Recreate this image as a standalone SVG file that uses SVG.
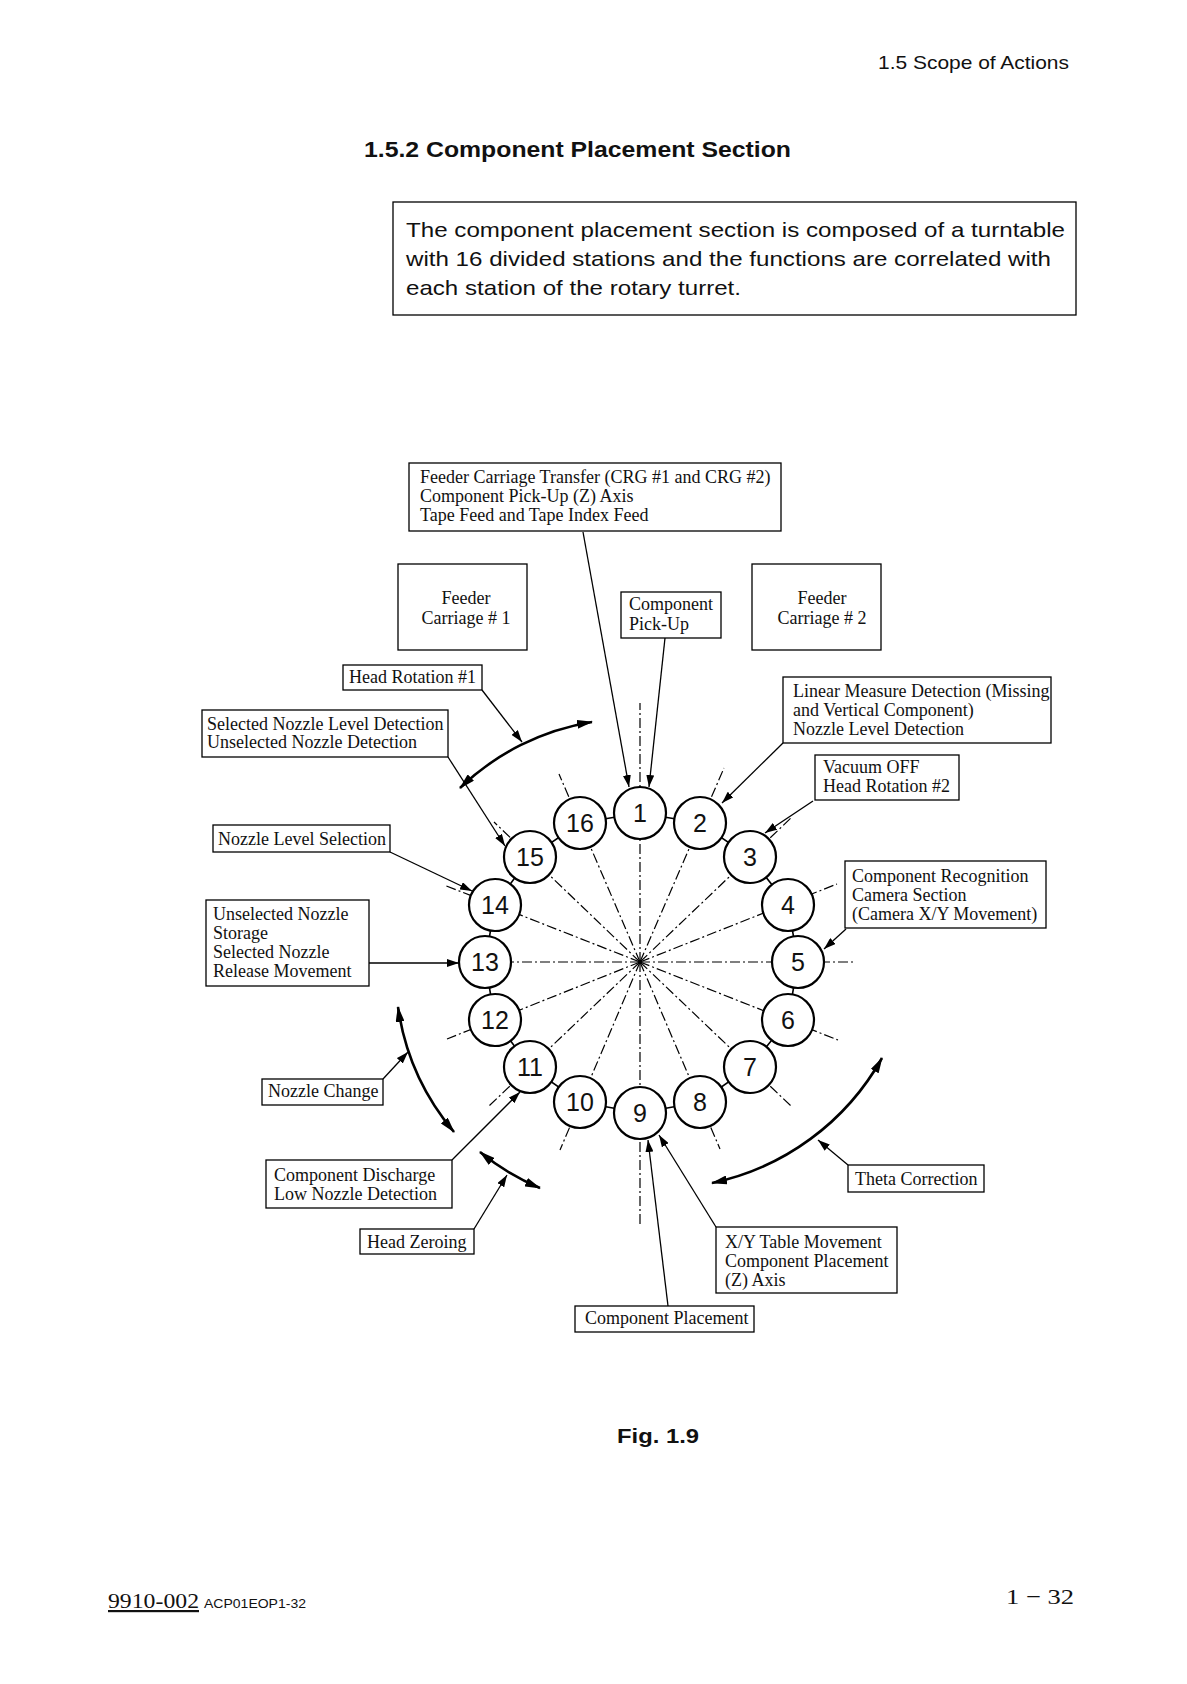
<svg xmlns="http://www.w3.org/2000/svg" width="1187" height="1684" viewBox="0 0 1187 1684">
<style>
.bg{fill:#fff}
.box{fill:#fff;stroke:#000;stroke-width:1.3}
.lbl{font-family:"Liberation Serif","Times New Roman",serif;font-size:18px;fill:#111}
.sans{font-family:"Liberation Sans",Arial,sans-serif;fill:#111}
.conn{fill:none;stroke:#000;stroke-width:1.3}
.arc{fill:none;stroke:#000;stroke-width:2.6}
.dd{fill:none;stroke:#000;stroke-width:1.2;stroke-dasharray:10 3 2 3}
.ring{fill:none;stroke:#000;stroke-width:1.6}
.st{fill:#fff;stroke:#000;stroke-width:2.2}
.num{font-family:"Liberation Sans",Arial,sans-serif;font-size:25px;fill:#111;text-anchor:middle}
</style>
<defs>
<marker id="ah" viewBox="0 0 12 8" refX="12" refY="4" markerWidth="12" markerHeight="8" markerUnits="userSpaceOnUse" orient="auto"><path d="M0,0 L12,4 L0,8 z" fill="#000"/></marker>
<marker id="ahb" viewBox="0 0 16 9" refX="15" refY="4.5" markerWidth="16" markerHeight="9" markerUnits="userSpaceOnUse" orient="auto-start-reverse"><path d="M0,0 L16,4.5 L0,9 z" fill="#000"/></marker>
</defs>
<rect class="bg" x="0" y="0" width="1187" height="1684"/>

<g id="page-text">
<text class="sans" x="878" y="69" font-size="19" textLength="191" lengthAdjust="spacingAndGlyphs">1.5 Scope of Actions</text>
<text class="sans" x="364" y="157" font-size="22" font-weight="bold" textLength="427" lengthAdjust="spacingAndGlyphs">1.5.2 Component Placement Section</text>
<rect class="box" x="393" y="202" width="683" height="113"/>
<text class="sans" font-size="21"><tspan x="406" y="237" textLength="659" lengthAdjust="spacingAndGlyphs">The component placement section is composed of a turntable</tspan><tspan x="406" y="266" textLength="645" lengthAdjust="spacingAndGlyphs">with 16 divided stations and the functions are correlated with</tspan><tspan x="406" y="295" textLength="335" lengthAdjust="spacingAndGlyphs">each station of the rotary turret.</tspan></text>
<text class="sans" x="617" y="1443" font-size="21" font-weight="bold" textLength="82" lengthAdjust="spacingAndGlyphs">Fig. 1.9</text>
<text x="108" y="1608" font-family="Liberation Serif,serif" font-size="22" fill="#111" text-decoration="underline" textLength="91" lengthAdjust="spacingAndGlyphs">9910-002</text>
<text class="sans" x="204" y="1608" font-size="13" textLength="102" lengthAdjust="spacingAndGlyphs">ACP01EOP1-32</text>
<text x="1006" y="1604" font-family="Liberation Serif,serif" font-size="22" fill="#111" textLength="68" lengthAdjust="spacingAndGlyphs">1 − 32</text>
</g>

<g id="turret-lines">
<path class="dd" d="M640 962 L640 703"/>
<path class="dd" d="M640 962 L724 768"/>
<path class="dd" d="M640 962 L792 817"/>
<path class="dd" d="M640 962 L837 884"/>
<path class="dd" d="M640 962 L854 962"/>
<path class="dd" d="M640 962 L838 1040"/>
<path class="dd" d="M640 962 L791 1106"/>
<path class="dd" d="M640 962 L720 1149"/>
<path class="dd" d="M640 962 L640 1227"/>
<path class="dd" d="M640 962 L560 1150"/>
<path class="dd" d="M640 962 L489 1106"/>
<path class="dd" d="M640 962 L447 1039"/>
<path class="dd" d="M640 962 L470 962"/>
<path class="dd" d="M640 962 L444 885"/>
<path class="dd" d="M640 962 L494 822"/>
<path class="dd" d="M640 962 L559 774"/>
<polygon class="ring" points="640,813 700,823 750,857 788,905 798,962 788,1020 750,1067 700,1102 640,1113 580,1102 530,1067 495,1020 485,962 495,905 530,857 580,823"/>
</g>

<g id="connectors">
<path class="conn" d="M583 532 L629 787" marker-end="url(#ah)"/>
<path class="conn" d="M665 638 L649 787" marker-end="url(#ah)"/>
<path class="conn" d="M482 690 L522 742" marker-end="url(#ah)"/>
<path class="conn" d="M448 757 L505 846" marker-end="url(#ah)"/>
<path class="conn" d="M390 852 L472 891" marker-end="url(#ah)"/>
<path class="conn" d="M369 963 L459 963" marker-end="url(#ah)"/>
<path class="conn" d="M383 1079 L408 1052" marker-end="url(#ah)"/>
<path class="conn" d="M452 1160 L520 1092" marker-end="url(#ah)"/>
<path class="conn" d="M474 1229 L507 1175" marker-end="url(#ah)"/>
<path class="conn" d="M668 1306 L648 1140" marker-end="url(#ah)"/>
<path class="conn" d="M716 1227 L659 1135" marker-end="url(#ah)"/>
<path class="conn" d="M848 1165 L818 1140" marker-end="url(#ah)"/>
<path class="conn" d="M846 929 L824 949" marker-end="url(#ah)"/>
<path class="conn" d="M813 801 L765 833" marker-end="url(#ah)"/>
<path class="conn" d="M783 743 L722 803" marker-end="url(#ah)"/>
<path class="arc" d="M460 788 A248 248 0 0 1 592 722" marker-start="url(#ahb)" marker-end="url(#ahb)"/>
<path class="arc" d="M398 1007 A248 248 0 0 0 454 1132" marker-start="url(#ahb)" marker-end="url(#ahb)"/>
<path class="arc" d="M480 1152 A248 248 0 0 0 540 1188" marker-start="url(#ahb)" marker-end="url(#ahb)"/>
<path class="arc" d="M882 1058 A255 255 0 0 1 712 1183" marker-start="url(#ahb)" marker-end="url(#ahb)"/>
</g>

<g id="st1"><circle class="st" cx="640" cy="813" r="26"/><text class="num" x="640" y="822">1</text></g>
<g id="st2"><circle class="st" cx="700" cy="823" r="26"/><text class="num" x="700" y="832">2</text></g>
<g id="st3"><circle class="st" cx="750" cy="857" r="26"/><text class="num" x="750" y="866">3</text></g>
<g id="st4"><circle class="st" cx="788" cy="905" r="26"/><text class="num" x="788" y="914">4</text></g>
<g id="st5"><circle class="st" cx="798" cy="962" r="26"/><text class="num" x="798" y="971">5</text></g>
<g id="st6"><circle class="st" cx="788" cy="1020" r="26"/><text class="num" x="788" y="1029">6</text></g>
<g id="st7"><circle class="st" cx="750" cy="1067" r="26"/><text class="num" x="750" y="1076">7</text></g>
<g id="st8"><circle class="st" cx="700" cy="1102" r="26"/><text class="num" x="700" y="1111">8</text></g>
<g id="st9"><circle class="st" cx="640" cy="1113" r="26"/><text class="num" x="640" y="1122">9</text></g>
<g id="st10"><circle class="st" cx="580" cy="1102" r="26"/><text class="num" x="580" y="1111">10</text></g>
<g id="st11"><circle class="st" cx="530" cy="1067" r="26"/><text class="num" x="530" y="1076">11</text></g>
<g id="st12"><circle class="st" cx="495" cy="1020" r="26"/><text class="num" x="495" y="1029">12</text></g>
<g id="st13"><circle class="st" cx="485" cy="962" r="26"/><text class="num" x="485" y="971">13</text></g>
<g id="st14"><circle class="st" cx="495" cy="905" r="26"/><text class="num" x="495" y="914">14</text></g>
<g id="st15"><circle class="st" cx="530" cy="857" r="26"/><text class="num" x="530" y="866">15</text></g>
<g id="st16"><circle class="st" cx="580" cy="823" r="26"/><text class="num" x="580" y="832">16</text></g>

<g id="n-feeder-transfer"><rect class="box" x="409" y="463" width="372" height="68"/><text class="lbl"><tspan x="420" y="483">Feeder Carriage Transfer (CRG #1 and CRG #2)</tspan><tspan x="420" y="502">Component Pick-Up (Z) Axis</tspan><tspan x="420" y="521">Tape Feed and Tape Index Feed</tspan></text></g>
<g id="n-feeder1"><rect class="box" x="398" y="564" width="129" height="86"/><text class="lbl" text-anchor="middle"><tspan x="466" y="604">Feeder</tspan><tspan x="466" y="624">Carriage # 1</tspan></text></g>
<g id="n-feeder2"><rect class="box" x="752" y="564" width="129" height="86"/><text class="lbl" text-anchor="middle"><tspan x="822" y="604">Feeder</tspan><tspan x="822" y="624">Carriage # 2</tspan></text></g>
<g id="n-pickup"><rect class="box" x="621" y="592" width="100" height="46"/><text class="lbl"><tspan x="629" y="610">Component</tspan><tspan x="629" y="630">Pick-Up</tspan></text></g>
<g id="n-headrot1"><rect class="box" x="343" y="665" width="139" height="25"/><text class="lbl" x="349" y="683">Head Rotation #1</text></g>
<g id="n-selnozzle"><rect class="box" x="202" y="710" width="246" height="47"/><text class="lbl"><tspan x="207" y="730">Selected Nozzle Level Detection</tspan><tspan x="207" y="748">Unselected Nozzle Detection</tspan></text></g>
<g id="n-nozzlesel"><rect class="box" x="213" y="825" width="177" height="27"/><text class="lbl" x="218" y="845">Nozzle Level Selection</text></g>
<g id="n-storage"><rect class="box" x="206" y="900" width="163" height="86"/><text class="lbl"><tspan x="213" y="920">Unselected Nozzle</tspan><tspan x="213" y="939">Storage</tspan><tspan x="213" y="958">Selected Nozzle</tspan><tspan x="213" y="977">Release Movement</tspan></text></g>
<g id="n-nozzlechange"><rect class="box" x="262" y="1079" width="121" height="26"/><text class="lbl" x="268" y="1097">Nozzle Change</text></g>
<g id="n-discharge"><rect class="box" x="266" y="1160" width="186" height="48"/><text class="lbl"><tspan x="274" y="1181">Component Discharge</tspan><tspan x="274" y="1200">Low Nozzle Detection</tspan></text></g>
<g id="n-headzero"><rect class="box" x="360" y="1229" width="114" height="25"/><text class="lbl" x="367" y="1248">Head Zeroing</text></g>
<g id="n-placement"><rect class="box" x="575" y="1306" width="179" height="26"/><text class="lbl" x="585" y="1324">Component Placement</text></g>
<g id="n-xytable"><rect class="box" x="716" y="1227" width="181" height="66"/><text class="lbl"><tspan x="725" y="1248">X/Y Table Movement</tspan><tspan x="725" y="1267">Component Placement</tspan><tspan x="725" y="1286">(Z) Axis</tspan></text></g>
<g id="n-theta"><rect class="box" x="848" y="1165" width="136" height="27"/><text class="lbl" x="855" y="1185">Theta Correction</text></g>
<g id="n-recognition"><rect class="box" x="845" y="861" width="201" height="67"/><text class="lbl"><tspan x="852" y="882">Component Recognition</tspan><tspan x="852" y="901">Camera Section</tspan><tspan x="852" y="920">(Camera X/Y Movement)</tspan></text></g>
<g id="n-vacuum"><rect class="box" x="815" y="755" width="144" height="45"/><text class="lbl"><tspan x="823" y="773">Vacuum OFF</tspan><tspan x="823" y="792">Head Rotation #2</tspan></text></g>
<g id="n-linear"><rect class="box" x="783" y="677" width="268" height="66"/><text class="lbl"><tspan x="793" y="697">Linear Measure Detection (Missing</tspan><tspan x="793" y="716">and Vertical Component)</tspan><tspan x="793" y="735">Nozzle Level Detection</tspan></text></g>
</svg>
